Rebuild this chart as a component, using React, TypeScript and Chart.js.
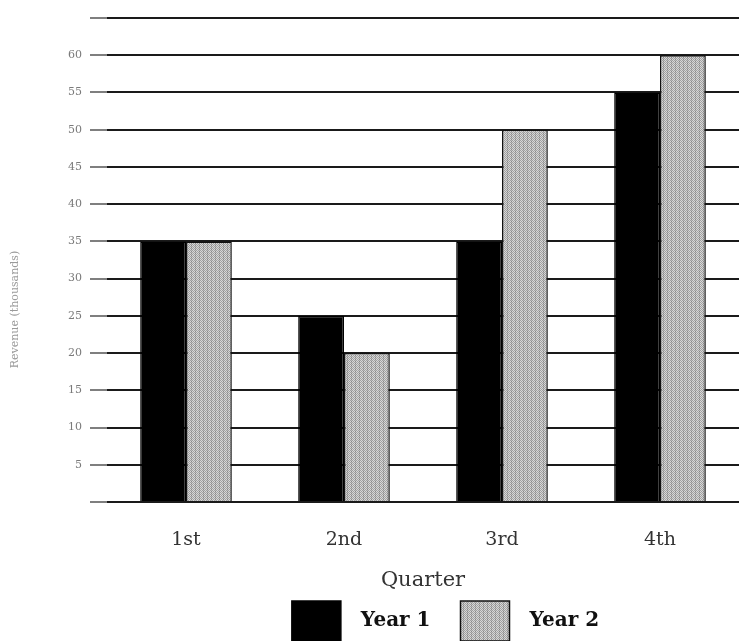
import React, { useEffect, useRef } from "react";
import { Chart, registerables } from "chart.js";

Chart.register(...registerables);

const quarters = ["1st", "2nd", "3rd", "4th"];
const year1 = [35, 25, 35, 55];
const year2 = [35, 20, 50, 60];
const seriesNames = ["Year 1", "Year 2"];
const yTitle = "Revenue (thousands)";
const xTitle = "Quarter";

function makePattern(): CanvasPattern | string {
  const c = document.createElement("canvas");
  c.width = 4;
  c.height = 4;
  const g = c.getContext("2d");
  if (!g) return "#c4c4c4";
  for (let y = 0; y < 4; y++) {
    for (let x = 0; x < 4; x++) {
      const dark = (x + y) % 2 === 0;
      g.fillStyle = dark ? "#a0a0a0" : "#d8d8d8";
      if (x === 3) g.fillStyle = dark ? "#888888" : "#bcbcbc";
      g.fillRect(x, y, 1, 1);
    }
  }
  const p = g.createPattern(c, "repeat");
  return p || "#c4c4c4";
}

const legendShift = {
  id: "legendShift",
  beforeDraw(chart: any) {
    const l = chart.legend;
    if (l) {
      l.left = 152;
      l.right = 739;
    }
  },
};

export default function App() {
  const ref = useRef<HTMLCanvasElement>(null);
  useEffect(() => {
    if (!ref.current) return;
    const pat = makePattern();
    const chart = new Chart(ref.current, {
      type: "bar",
      data: {
        labels: quarters,
        datasets: [
          {
            label: seriesNames[0],
            data: year1,
            backgroundColor: "#000000",
            borderColor: "#000000",
            borderWidth: 1.5,
          },
          {
            label: seriesNames[1],
            data: year2,
            backgroundColor: pat as any,
            borderColor: "#111111",
            borderWidth: 1.5,
          },
        ],
      },
      options: {
        animation: false,
        responsive: true,
        maintainAspectRatio: false,
        layout: { padding: { top: 18, right: 0, left: 0, bottom: -10 } },
        datasets: { bar: { barPercentage: 1, categoryPercentage: 0.58 } } as any,
        plugins: {
          tooltip: { enabled: false },
          legend: {
            position: "bottom",
            labels: {
              boxWidth: 49,
              boxHeight: 40,
              padding: 30,
              color: "#111",
              font: { family: "DejaVu Serif", size: 20, weight: "bold" },
              generateLabels(chart: any) {
                const items = Chart.defaults.plugins.legend.labels.generateLabels(chart);
                return items.map((it: any) => ({ ...it, text: "\u2002" + it.text }));
              },
            },
          },
        },
        scales: {
          x: {
            grid: { display: false, drawTicks: false },
            border: { display: false },
            ticks: {
              color: "#333",
              padding: 27,
              font: { family: "DejaVu Serif", size: 19 },
            },
            title: {
              display: true,
              text: xTitle,
              color: "#333",
              font: { family: "DejaVu Serif", size: 21 },
              padding: { top: 10, bottom: -22 },
            },
            afterFit(scale: any) {
              scale.height = 69;
            },
          },
          y: {
            min: 0,
            max: 65,
            ticks: {
              stepSize: 5,
              color: "#7a7a7a",
              padding: 8,
              font: { family: "DejaVu Serif", size: 11 },
              callback: (v: any) => (v === 0 || v === 65 ? "" : String(v)),
            },
            grid: {
              color: "#1a1a1a",
              lineWidth: 2,
              tickLength: 17,
              tickColor: "#555",
              tickWidth: 1.5,
            },
            border: { display: false },
            title: {
              display: true,
              text: yTitle + "\u2003".repeat(9),
              color: "#9a9a9a",
              font: { family: "DejaVu Serif", size: 11 },
              padding: { top: 9, bottom: 6 },
            },
            afterFit(scale: any) {
              scale.width = 107;
            },
          },
        },
      },
      plugins: [legendShift],
    });
    return () => chart.destroy();
  }, []);
  return (
    <div
      style={{
        position: "fixed",
        left: 0,
        top: 0,
        width: 739,
        height: 641,
        background: "#fff",
      }}
    >
      <canvas ref={ref} />
    </div>
  );
}
